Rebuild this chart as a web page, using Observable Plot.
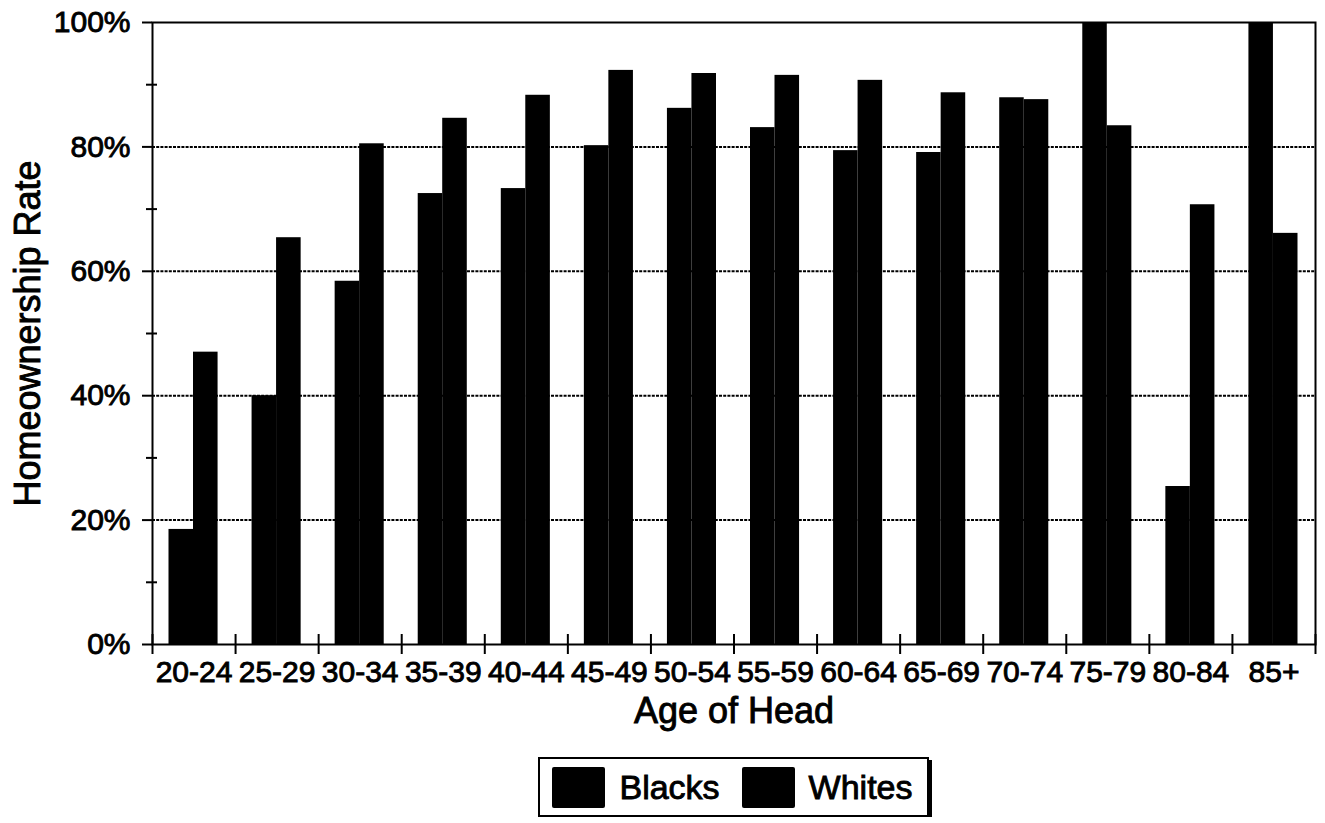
<!DOCTYPE html>
<html>
<head>
<meta charset="utf-8">
<script src="https://cdn.jsdelivr.net/npm/d3@7"></script>
<script src="https://cdn.jsdelivr.net/npm/@observablehq/plot@0.6"></script>
<style>
  html, body { margin: 0; padding: 0; background: #fff; }
  body { font-family: "Liberation Sans", Arial, sans-serif; color: #000; }
  #chart svg { display: block; overflow: visible; }
  /* heavier lettering throughout */
  #chart svg text { stroke: #000; stroke-width: 0.9px; paint-order: stroke; }
  .legend-row { display: flex; justify-content: center; margin: 22px 10px 0 152px; }
  .legend {
    display: flex; align-items: center;
    border: 2px solid #000; box-shadow: 3px 3px 0 #000;
    padding: 8px 8px 7px 12px; background: #fff;
  }
  .legend .item { display: flex; align-items: center; }
  .legend .swatch { width: 53px; height: 41px; background: #000; margin-right: 14px; border-radius: 2px; }
  .legend .label { font-size: 34px; margin-right: 22px; -webkit-text-stroke: 0.9px #000; }
  .legend .item:last-child .label { margin-right: 6px; }
</style>
</head>
<body>
<div id="chart"></div>
<div class="legend-row"><div class="legend" id="legend"></div></div>
<script>
// Age groups of the household head
const ages = ["20-24", "25-29", "30-34", "35-39", "40-44", "45-49", "50-54",
              "55-59", "60-64", "65-69", "70-74", "75-79", "80-84", "85+"];
// Homeownership rate (%) by age group
const blacks = [18.5, 40.0, 58.4, 72.5, 73.3, 80.2, 86.2, 83.1, 79.4, 79.1, 87.9, 100, 25.4, 100];
const whites = [47.0, 65.4, 80.5, 84.6, 88.3, 92.3, 91.8, 91.5, 90.7, 88.7, 87.6, 83.4, 70.7, 66.1];
const seriesNames = ["Blacks", "Whites"];
const yTicks = [0, 20, 40, 60, 80, 100];
const yMinorTicks = [10, 30, 50, 70, 90];
const gridTicks = [20, 40, 60, 80];

const width = 1325, height = 735;
const marginLeft = 152, marginRight = 10, marginTop = 22, marginBottom = 91;
const band = (width - marginLeft - marginRight) / ages.length;

const rows = (vals) => ages.map((age, i) => ({age, value: vals[i]}));
const blackRows = rows(blacks);
const whiteRows = rows(whites);

const chart = Plot.plot({
  width, height, marginLeft, marginRight, marginTop, marginBottom,
  style: {fontFamily: "'Liberation Sans', Arial, sans-serif", color: "#000", background: "#fff"},
  x: {domain: ages, padding: 0, round: false},
  y: {domain: [0, 100]},
  marks: [
    // dotted gridlines behind the bars
    Plot.ruleY(gridTicks, {stroke: "#000", strokeWidth: 2, strokeDasharray: "3,1.2"}),
    // paired bars in each age band
    Plot.barY(blackRows, {x: "age", y: "value", fill: "#000", insetLeft: 16.5, insetRight: band - 41}),
    Plot.barY(whiteRows, {x: "age", y: "value", fill: "#000", insetLeft: 41, insetRight: 17.5}),
    Plot.frame({stroke: "#000", strokeWidth: 2}),
    // y axis: labelled major ticks and unlabelled minor ticks crossing the axis
    Plot.axisY({ticks: yTicks, tickFormat: d => d + "%", tickSize: 10, tickPadding: 12,
                fontSize: 30, strokeWidth: 2, label: null}),
    Plot.axisY({ticks: yMinorTicks, tickFormat: () => "", tickSize: 11, dx: 5,
                strokeWidth: 2, label: null}),
    // x axis: category labels, ticks at the band boundaries
    Plot.axisX({tickSize: 0, tickPadding: 16, fontSize: 30, label: null}),
    Plot.axisX({ticks: ages, tickFormat: () => "", tickSize: 20, dy: -10, dx: -band / 2,
                strokeWidth: 2, label: null}),
    Plot.axisX({ticks: ages.slice(-1), tickFormat: () => "", tickSize: 20, dy: -10, dx: band / 2,
                strokeWidth: 2, label: null}),
    // axis titles
    Plot.text(["Homeownership Rate"], {frameAnchor: "left", rotate: -90, dx: -124,
                fontSize: 36, textAnchor: "middle", lineAnchor: "middle"}),
    Plot.text(["Age of Head"], {frameAnchor: "bottom", dy: 53, fontSize: 36,
                textAnchor: "middle", lineAnchor: "top"})
  ]
});
document.getElementById("chart").appendChild(chart);

// legend for the two series
const legend = document.getElementById("legend");
for (const name of seriesNames) {
  const item = document.createElement("div");
  item.className = "item";
  item.innerHTML = `<div class="swatch"></div><div class="label">${name}</div>`;
  legend.appendChild(item);
}
</script>
</body>
</html>
